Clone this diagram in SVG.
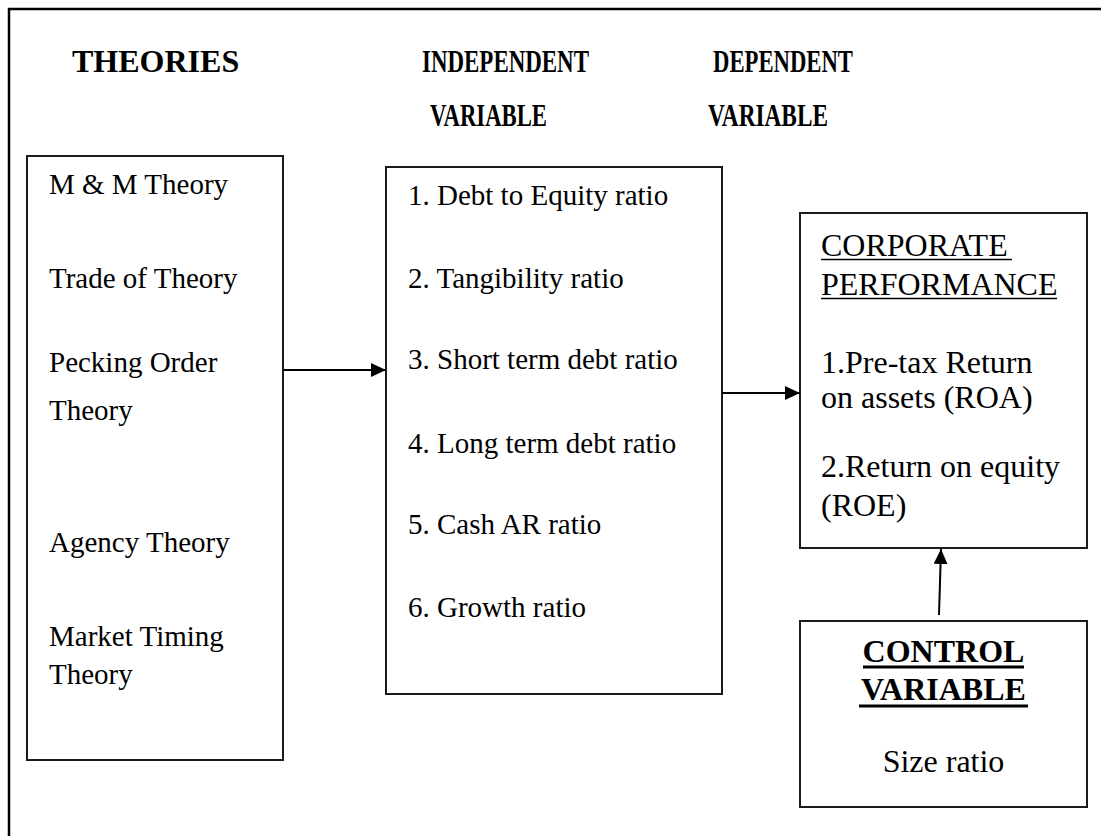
<svg xmlns="http://www.w3.org/2000/svg" width="1101" height="836" viewBox="0 0 1101 836">
<style>
.box{fill:#fff;stroke:#1a1a1a;stroke-width:2}
.t{font-family:"Liberation Serif","Times New Roman",serif;fill:#000;font-size:29px}
.r{font-size:32px}
.h{font-family:"Liberation Serif","Times New Roman",serif;font-weight:bold;fill:#000;font-size:32px}
.hc{font-size:31px}
.conn{stroke:#000;stroke-width:2;fill:none;marker-end:url(#ah)}
.ul{stroke:#000;stroke-width:1.5}
.ulb{stroke:#000;stroke-width:3}
</style>
<defs>
<marker id="ah" markerUnits="userSpaceOnUse" markerWidth="16" markerHeight="15" refX="15" refY="7" orient="auto">
<path d="M0,0 L15,7 L0,14 z" fill="#000"/>
</marker>
</defs>
<rect width="1101" height="836" fill="#fff"/>
<path d="M9,836 L9,9 L1101,9" fill="none" stroke="#000" stroke-width="2.5"/>
<g id="headers">
<text class="h" x="72" y="72">THEORIES</text>
<text class="h hc" x="422" y="72" textLength="167" lengthAdjust="spacingAndGlyphs">INDEPENDENT</text>
<text class="h hc" x="430" y="126" textLength="117" lengthAdjust="spacingAndGlyphs">VARIABLE</text>
<text class="h hc" x="713" y="72" textLength="140" lengthAdjust="spacingAndGlyphs">DEPENDENT</text>
<text class="h hc" x="708" y="126" textLength="120" lengthAdjust="spacingAndGlyphs">VARIABLE</text>
</g>
<g id="theories">
<rect class="box" x="27" y="156" width="256" height="604"/>
<text class="t" x="49" y="194">M &amp; M Theory</text>
<text class="t" x="49" y="288">Trade of Theory</text>
<text class="t" x="49" y="372">Pecking Order</text>
<text class="t" x="49" y="420">Theory</text>
<text class="t" x="49" y="552">Agency Theory</text>
<text class="t" x="49" y="646">Market Timing</text>
<text class="t" x="49" y="684">Theory</text>
</g>
<g id="independent">
<rect class="box" x="386" y="167" width="336" height="527"/>
<text class="t" x="408" y="205">1. Debt to Equity ratio</text>
<text class="t" x="408" y="288">2. Tangibility ratio</text>
<text class="t" x="408" y="369">3. Short term debt ratio</text>
<text class="t" x="408" y="453">4. Long term debt ratio</text>
<text class="t" x="408" y="534">5. Cash AR ratio</text>
<text class="t" x="408" y="617">6. Growth ratio</text>
</g>
<g id="dependent">
<rect class="box" x="800" y="213" width="287" height="335"/>
<text class="t r" x="821" y="256">CORPORATE</text>
<line class="ul" x1="821" y1="259.5" x2="1012" y2="259.5"/>
<text class="t r" x="821" y="295">PERFORMANCE</text>
<line class="ul" x1="821" y1="298.5" x2="1057" y2="298.5"/>
<text class="t r" x="821" y="373">1.Pre-tax Return</text>
<text class="t r" x="821" y="408">on assets (ROA)</text>
<text class="t r" x="821" y="477">2.Return on equity</text>
<text class="t r" x="821" y="516">(ROE)</text>
</g>
<g id="control">
<rect class="box" x="800" y="621" width="287" height="186"/>
<text class="h" x="943.5" y="662" text-anchor="middle">CONTROL</text>
<line class="ulb" x1="863" y1="667" x2="1024" y2="667"/>
<text class="h" x="943.5" y="700" text-anchor="middle">VARIABLE</text>
<line class="ulb" x1="859" y1="706" x2="1028" y2="706"/>
<text class="t r" x="943.5" y="772" text-anchor="middle">Size ratio</text>
</g>
<g id="connectors">
<line class="conn" x1="283" y1="370" x2="386" y2="370"/>
<line class="conn" x1="722" y1="393" x2="800" y2="393"/>
<line class="conn" x1="939" y1="615" x2="941" y2="549"/>
</g>
</svg>
